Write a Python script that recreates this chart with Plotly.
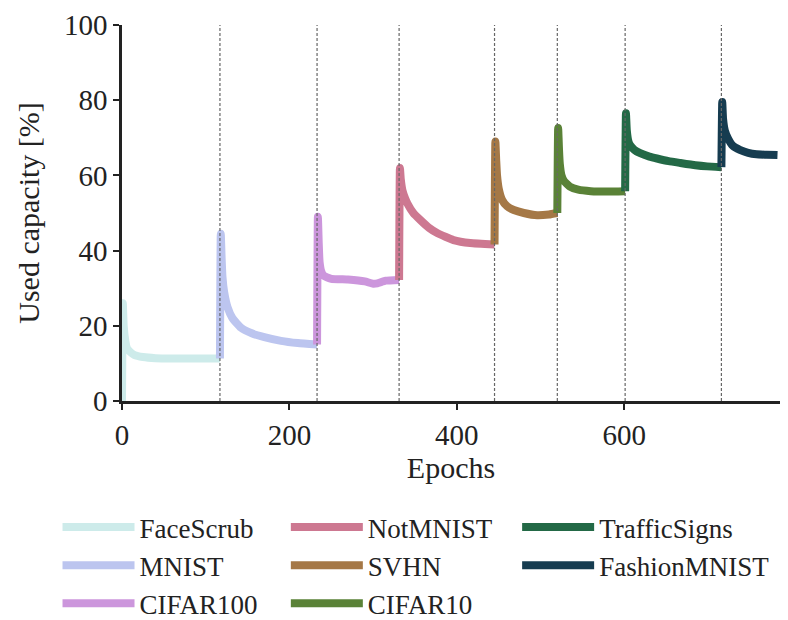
import plotly.graph_objects as go

# ---- data ----
task_names = ["FaceScrub", "MNIST", "CIFAR100", "NotMNIST", "SVHN", "CIFAR10", "TrafficSigns", "FashionMNIST"]
task_colors = ["#cdebea", "#bcc5ef", "#cc96dc", "#cd7891", "#a57846", "#5a8237", "#236946", "#163c50"]
task_boundaries = [117, 233, 331, 445, 520, 601, 716]

facescrub_epochs = [0, 1, 2, 4, 6, 10, 15, 25, 40, 60, 80, 100, 117]
facescrub_values = [0, 26, 20, 16, 14, 13, 12.2, 11.7, 11.4, 11.3, 11.3, 11.3, 11.3]

mnist_epochs = [117, 118, 119, 120, 122, 126, 132, 142, 155, 170, 190, 210, 233]
mnist_values = [11.3, 44.5, 38, 33, 29, 25, 22, 19.5, 18, 17, 16, 15.4, 15]

cifar100_epochs = [233, 234, 235, 236, 238, 241, 250, 270, 290, 300, 305, 315, 331]
cifar100_values = [15, 49, 42, 37, 34.5, 33.3, 32.5, 32.3, 31.8, 31.2, 31.3, 32, 32.2]

notmnist_epochs = [331, 332, 333, 335, 338, 341, 348, 357, 367, 377, 396, 416, 445]
notmnist_values = [32.2, 62, 59, 56, 54, 52.5, 50, 48, 46, 44.6, 42.8, 42, 41.6]

svhn_epochs = [445, 446, 447, 448, 450, 454, 460, 468, 480, 496, 510, 520]
svhn_values = [41.6, 69, 64, 60, 56.5, 53.5, 51.8, 50.8, 50, 49.4, 49.6, 50]

cifar10_epochs = [520, 521, 522, 523, 525, 528, 535, 545, 560, 580, 601]
cifar10_values = [50, 72.6, 67, 63, 60, 58.5, 57, 56.2, 55.8, 55.7, 55.8]

traffic_epochs = [601, 602, 603, 605, 607, 612, 619, 630, 639, 653, 667, 685, 699, 716]
traffic_values = [55.8, 76.5, 72, 69, 68, 66.8, 65.9, 65, 64.5, 63.8, 63.3, 62.7, 62.4, 62.2]

fashion_epochs = [716, 717, 718, 720, 724, 730, 738, 748, 758, 770, 783]
fashion_values = [62.2, 79.5, 75, 72, 69.8, 67.8, 66.8, 66, 65.6, 65.5, 65.4]

x_ticks = [0, 200, 400, 600]
y_ticks = [0, 20, 40, 60, 80, 100]

series = [
    (facescrub_epochs, facescrub_values),
    (mnist_epochs, mnist_values),
    (cifar100_epochs, cifar100_values),
    (notmnist_epochs, notmnist_values),
    (svhn_epochs, svhn_values),
    (cifar10_epochs, cifar10_values),
    (traffic_epochs, traffic_values),
    (fashion_epochs, fashion_values),
]

FONT = "Times New Roman, Liberation Serif, serif"
fig = go.Figure()

legend_ids = ["legend", "legend", "legend", "legend2", "legend2", "legend2", "legend3", "legend3"]
for i, ((ex, ev), name, col) in enumerate(zip(series, task_names, task_colors)):
    fig.add_trace(go.Scatter(
        x=ex, y=ev, name=name, mode="lines",
        line=dict(color=col, width=8, shape="spline", smoothing=0.4),
        legend=legend_ids[i],
    ))

for b in task_boundaries:
    fig.add_shape(type="line", x0=b, x1=b, y0=0, y1=1, xref="x", yref="y domain",
                  line=dict(color="#666666", width=1.2, dash="3px,2px"), layer="above")

legend_common = dict(
    orientation="v", xanchor="left", yanchor="top", y=-0.2713,
    font=dict(family=FONT, size=27, color="#222222"),
    bgcolor="rgba(0,0,0,0)", itemwidth=72, tracegroupgap=0,
)
title_font = dict(family=FONT, size=30, color="#222222")
fig.update_layout(
    width=788, height=620,
    margin=dict(l=122, r=8, t=25, b=219, autoexpand=False),
    plot_bgcolor="white", paper_bgcolor="white",
    font=dict(family=FONT, size=29, color="#222222"),
    legend=dict(x=-0.098, **legend_common),
    legend2=dict(x=0.2490, **legend_common),
    legend3=dict(x=0.6005, **legend_common),
    xaxis=dict(
        range=[0, 786], tickvals=x_ticks, ticks="outside", ticklen=6, tickwidth=2,
        tickcolor="#222222", showline=True, linewidth=2.5, linecolor="#222222",
        showgrid=False, zeroline=False,
        title=dict(text="Epochs", standoff=2, font=title_font),
        tickfont=dict(family=FONT, size=29),
    ),
    yaxis=dict(
        range=[0, 100], tickvals=y_ticks, ticks="outside", ticklen=6, tickwidth=2,
        tickcolor="#222222", showline=True, linewidth=2.5, linecolor="#222222",
        showgrid=False, zeroline=False,
        title=dict(text="Used capacity [%]", standoff=16, font=title_font),
        tickfont=dict(family=FONT, size=29),
    ),
)

fig.write_html("out.html")
